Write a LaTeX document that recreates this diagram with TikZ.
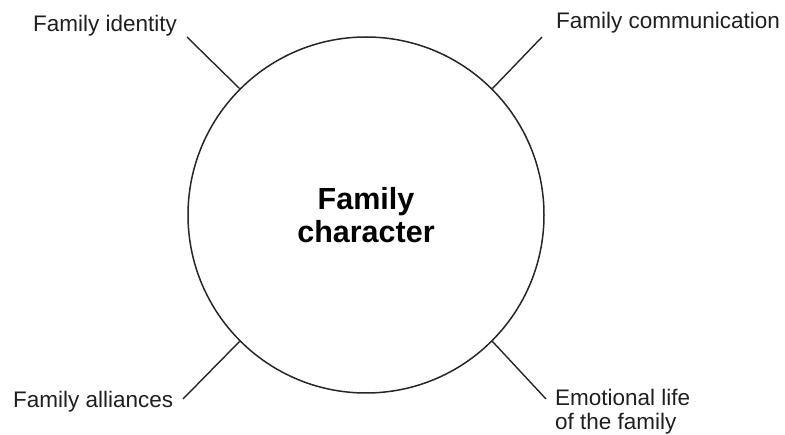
\documentclass[tikz,border=0pt]{standalone}
\usepackage{fontspec}
\setmainfont{Liberation Sans}
\begin{document}
\begin{tikzpicture}[x=1pt,y=-1pt,
  lab/.style={inner sep=0pt, font=\fontsize{22.5}{23.5}\selectfont, text=black!88},
  conn/.style={line width=1.4pt, draw=black!85},
  hub/.style={circle, draw=black!85, line width=1.5pt, minimum size=356pt, inner sep=0pt,
    align=center, text=black, font=\fontsize{30.5}{32.6}\selectfont\bfseries}]
\useasboundingbox (0,0) rectangle (785,435);
\node[hub] (c) at (366,215) {Family\\character};
\node[lab, anchor=base west] (id) at (33,32) {Family identity};
\node[lab, anchor=base west] (com) at (556,29) {Family communication};
\node[lab, anchor=base west] (all) at (13,408) {Family alliances};
\node[lab, anchor=north west, align=left] (emo) at (555,389) {Emotional life\\of the family};
\coordinate (tl) at (187,37);
\coordinate (tr) at (542,37);
\coordinate (bl) at (183,399);
\coordinate (br) at (546,399);
\draw[conn] (c.135) -- (tl);
\draw[conn] (c.45) -- (tr);
\draw[conn] (c.225) -- (bl);
\draw[conn] (c.315) -- (br);
\end{tikzpicture}
\end{document}
